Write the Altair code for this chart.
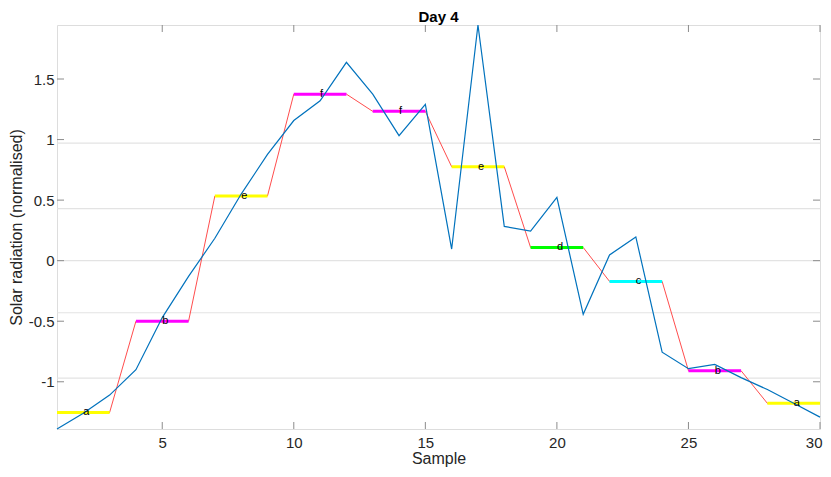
import altair as alt
import pandas as pd

# ---- data ----
samples = list(range(1, 31))
radiation = [-1.39, -1.26, -1.11, -0.90, -0.47, -0.13, 0.185, 0.55, 0.877, 1.157,
             1.32, 1.638, 1.375, 1.032, 1.29, 0.096, 1.946, 0.283, 0.245, 0.522,
             -0.443, 0.047, 0.196, -0.756, -0.892, -0.857, -0.966, -1.064, -1.178, -1.292]

seg_letters = ["a", "b", "e", "f", "f", "e", "d", "c", "b", "a"]
seg_values = [-1.253, -0.50, 0.534, 1.375, 1.233, 0.776, 0.109, -0.171, -0.909, -1.178]
seg_start = [1, 4, 7, 10, 13, 16, 19, 22, 25, 28]
seg_end = [3, 6, 9, 12, 15, 18, 21, 24, 27, 30]
seg_mid = [2, 5, 8, 11, 14, 17, 20, 23, 26, 29]

letter_names = ["a", "b", "c", "d", "e", "f"]
letter_colors = ["#ffff00", "#ff00ff", "#00ffff", "#00ff00", "#ffff00", "#ff00ff"]

breakpoints = [-0.97, -0.43, 0.0, 0.43, 0.97]
x_ticks = [5, 10, 15, 20, 25, 30]
y_ticks = [-1, -0.5, 0, 0.5, 1, 1.5]
y_min, y_max = -1.39, 1.946

W, H = 763, 404
FONT = "Liberation Sans"
TXT = "#262626"
FRAME = "#8c8c8c"

# ---- tables ----
df_line = pd.DataFrame({"x": samples, "y": radiation})
paa = []
for s, e, v in zip(seg_start, seg_end, seg_values):
    paa += [v] * (e - s + 1)
df_paa = pd.DataFrame({"x": samples, "y": paa})
df_seg = pd.DataFrame({"x": seg_start, "x2": seg_end, "xm": seg_mid,
                       "y": seg_values, "letter": seg_letters})
df_grid = pd.DataFrame({"y": breakpoints})
df_xt = pd.DataFrame({"x": x_ticks})
df_yt = pd.DataFrame({"y": y_ticks})

xs = alt.Scale(domain=[1, 30], nice=False, zero=False)
ys = alt.Scale(domain=[y_min, y_max], nice=False, zero=False)

x_axis = alt.Axis(title="Sample", values=x_ticks, tickSize=0, domain=False, grid=False,
                  labelFontSize=15, labelColor=TXT, labelFont=FONT, labelPadding=6,
                  labelFlush=True, labelFlushOffset=2, labelOverlap=False,
                  titleFontSize=16, titleColor=TXT, titleFont=FONT,
                  titleFontWeight="normal", titlePadding=0)
y_axis = alt.Axis(title="Solar radiation (normalised)", values=y_ticks, tickSize=0,
                  domain=False, grid=False, labelFontSize=15, labelColor=TXT,
                  labelFont=FONT, labelPadding=3, labelFlush=False, labelOverlap=False,
                  labelExpr="'' + datum.value",
                  titleFontSize=16, titleColor=TXT, titleFont=FONT,
                  titleFontWeight="normal", titlePadding=4)


def X(field):
    return alt.X(field, type="quantitative", scale=xs, axis=x_axis)


def Y(field):
    return alt.Y(field, type="quantitative", scale=ys, axis=y_axis)


grid = alt.Chart(df_grid).mark_rule(color="#e3e3e3", strokeWidth=1.2).encode(y=Y("y"))

red = alt.Chart(df_paa).mark_line(color="#ff4d4d", strokeWidth=1).encode(x=X("x"), y=Y("y"))

segs = alt.Chart(df_seg).mark_rule(strokeWidth=3).encode(
    x=X("x"), x2="x2:Q", y=Y("y"),
    color=alt.Color("letter:N", scale=alt.Scale(domain=letter_names, range=letter_colors),
                    legend=None))

blue = alt.Chart(df_line).mark_line(color="#0072BD", strokeWidth=1.2).encode(x=X("x"), y=Y("y"))

labels = alt.Chart(df_seg).mark_text(align="left", baseline="middle", fontSize=11,
                                     font=FONT, color="black").encode(
    x=X("xm"), y=Y("y"), text="letter:N")

# inward ticks (MATLAB style)
xt_bot = alt.Chart(df_xt).mark_rule(color=FRAME).encode(
    x=X("x"), y=alt.value(H), y2=alt.value(H - 7))
xt_top = alt.Chart(df_xt).mark_rule(color=FRAME).encode(
    x=X("x"), y=alt.value(0), y2=alt.value(7))
yt_left = alt.Chart(df_yt).mark_rule(color=FRAME).encode(
    y=Y("y"), x=alt.value(0), x2=alt.value(7))
yt_right = alt.Chart(df_yt).mark_rule(color=FRAME).encode(
    y=Y("y"), x=alt.value(W), x2=alt.value(W - 7))

chart = alt.layer(grid, red, segs, blue, labels, xt_bot, xt_top, yt_left, yt_right).properties(
    width=W, height=H,
    title=alt.TitleParams("Day 4", fontSize=15, font=FONT, fontWeight="bold",
                          color="black", anchor="middle", offset=-2.5),
    padding={"left": 49, "top": 17, "right": 3, "bottom": 40},
    autosize=alt.AutoSizeParams(type="none"),
).configure_view(stroke=FRAME, strokeWidth=1).configure(background="white")

chart.save("out.html", embed_options={"renderer": "svg", "actions": False})
